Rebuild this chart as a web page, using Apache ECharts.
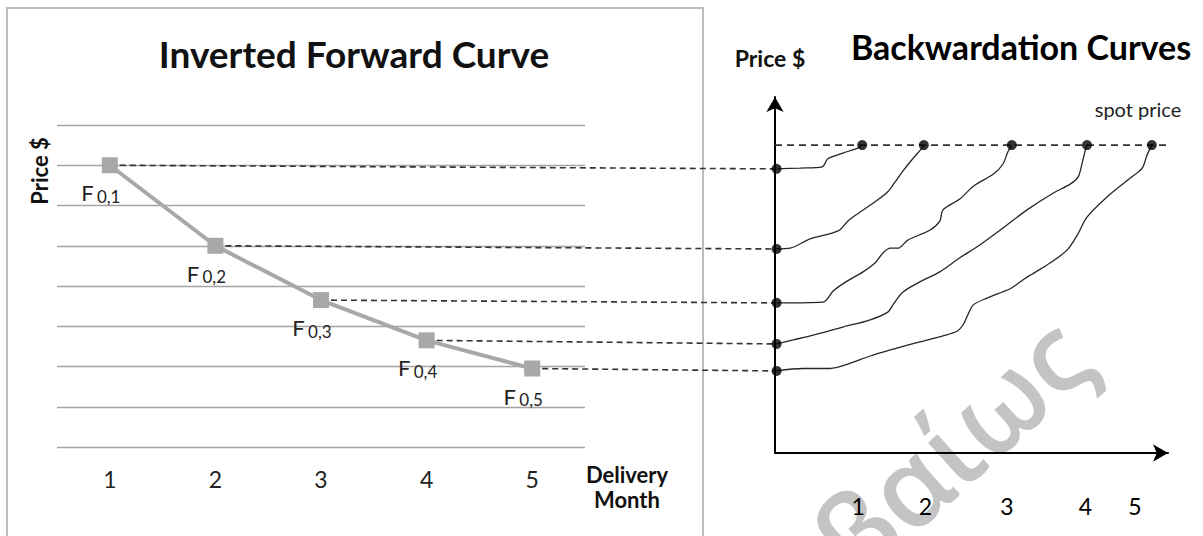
<!DOCTYPE html>
<html>
<head>
<meta charset="utf-8">
<script src="https://cdn.jsdelivr.net/npm/echarts@6/dist/echarts.min.js"></script>
<style>
  html, body { margin: 0; padding: 0; background: #ffffff; }
  #chart { width: 1203px; height: 536px; }
</style>
</head>
<body>
<div id="chart"></div>
<script>
// ---- Inverted forward curve: delivery months and forward prices F(0,k) ----
const months = ['1', '2', '3', '4', '5'];
const forwardPrices = [7.0, 5.0, 3.65, 2.65, 1.95];
const forwardSubscripts = ['0,1', '0,2', '0,3', '0,4', '0,5'];

// ---- Backwardation curves: spot price level and price paths [time, price] ----
const spotPrice = 7.5;
const spotLineEnd = 4.9;
const curve1 = [[0.02,6.91],[0.31,6.93],[0.59,6.96],[0.66,7.16],[0.85,7.30],[1.04,7.43],[1.09,7.50]];
const curve2 = [[0.02,4.92],[0.19,4.94],[0.44,5.17],[0.79,5.37],[0.91,5.61],[1.03,5.79],[1.25,6.09],[1.41,6.34],[1.50,6.58],[1.60,6.86],[1.73,7.18],[1.84,7.43],[1.86,7.50]];
const curve3 = [[0.02,3.58],[0.60,3.60],[0.73,3.88],[0.90,4.12],[1.10,4.35],[1.25,4.57],[1.35,4.82],[1.44,4.94],[1.54,4.94],[1.66,5.14],[1.94,5.39],[2.06,5.61],[2.10,5.89],[2.31,6.16],[2.48,6.48],[2.73,6.78],[2.85,7.03],[2.91,7.33],[2.96,7.50]];
const curve4 = [[0.02,2.56],[0.23,2.66],[0.48,2.78],[0.85,2.98],[1.19,3.16],[1.41,3.35],[1.48,3.55],[1.60,3.85],[1.81,4.10],[2.06,4.35],[2.31,4.70],[2.56,5.02],[2.85,5.44],[3.15,5.89],[3.48,6.31],[3.69,6.53],[3.79,6.71],[3.84,7.06],[3.88,7.38],[3.90,7.50]];
const curve5 = [[0.02,1.89],[0.35,1.95],[0.69,1.95],[0.90,2.05],[1.19,2.26],[1.48,2.43],[1.81,2.61],[2.10,2.76],[2.28,2.88],[2.35,3.03],[2.41,3.28],[2.48,3.53],[2.65,3.70],[2.94,3.93],[3.03,4.05],[3.15,4.22],[3.40,4.52],[3.65,4.89],[3.78,5.27],[3.90,5.71],[4.15,6.21],[4.44,6.68],[4.59,6.93],[4.65,7.25],[4.71,7.50]];
const curves = [curve1, curve2, curve3, curve4, curve5];

// Month labels under the backwardation time axis
const timeTickValues = [1.04, 1.88, 2.90, 3.88, 4.50];
const timeTickLabels = ['1', '2', '3', '4', '5'];

// ---- Layout ----
const LEFT_GRID = { left: 57, top: 125, width: 528, height: 322 };
const RIGHT_GRID = { left: 775, top: 97, width: 393, height: 356 };
const FONT = 'Lato, "Open Sans", sans-serif';

// A hidden grid sharing the left panel's scales but reaching across to the
// price axis of the backwardation panel; the dashed connectors live here.
const leftXMin = 0.5, leftXMax = 5.5;
const pxPerMonth = LEFT_GRID.width / (leftXMax - leftXMin);
const LINK_GRID = {
  left: LEFT_GRID.left, top: LEFT_GRID.top,
  width: RIGHT_GRID.left + 1 - LEFT_GRID.left, height: LEFT_GRID.height
};
const linkXMax = leftXMin + LINK_GRID.width / pxPerMonth;

const chart = echarts.init(document.getElementById('chart'), null, { renderer: 'svg' });

const dashed = { color: '#333333', width: 1.6, type: [6, 4] };

const connectorSeries = forwardPrices.map((p, i) => ({
  type: 'line',
  xAxisIndex: 3,
  yAxisIndex: 2,
  data: [[i + 1, p], [linkXMax, curves[i][0][1]]],
  showSymbol: false,
  silent: true,
  z: 3,
  lineStyle: dashed
}));

const curveSeries = curves.map((c) => ({
  type: 'line',
  xAxisIndex: 2,
  yAxisIndex: 1,
  data: c,
  smooth: 0.3,
  showSymbol: false,
  silent: true,
  z: 3,
  lineStyle: { color: '#262626', width: 1.3 }
}));

const option = {
  backgroundColor: '#ffffff',
  animation: false,
  grid: [
    Object.assign({ containLabel: false }, LEFT_GRID),
    Object.assign({ containLabel: false }, RIGHT_GRID),
    Object.assign({ containLabel: false }, LINK_GRID)
  ],
  xAxis: [
    {
      gridIndex: 0,
      type: 'category',
      data: months,
      boundaryGap: true,
      axisLine: { show: false },
      axisTick: { show: false },
      axisLabel: { fontFamily: FONT, fontSize: 23, color: '#222222', margin: 20 }
    },
    {
      gridIndex: 0,
      type: 'value',
      min: leftXMin,
      max: leftXMax,
      show: false
    },
    {
      gridIndex: 1,
      type: 'value',
      min: 0,
      max: 4.9125,
      splitLine: { show: false },
      axisTick: { show: false },
      axisLine: {
        show: true, onZero: false,
        symbol: ['none', 'arrow'], symbolSize: [13, 15],
        lineStyle: { color: '#000000', width: 2 }
      },
      axisLabel: {
        customValues: timeTickValues,
        formatter: (v) => {
          let best = 0;
          timeTickValues.forEach((t, i) => {
            if (Math.abs(t - v) < Math.abs(timeTickValues[best] - v)) best = i;
          });
          return timeTickLabels[best];
        },
        fontFamily: FONT, fontSize: 23, color: '#000000', margin: 41
      }
    },
    {
      gridIndex: 2,
      type: 'value',
      min: leftXMin,
      max: linkXMax,
      show: false
    }
  ],
  yAxis: [
    {
      gridIndex: 0,
      type: 'value',
      min: 0,
      max: 8,
      interval: 1,
      axisLine: { show: false },
      axisTick: { show: false },
      axisLabel: { show: false },
      splitLine: { show: true, lineStyle: { color: '#a3a3a3', width: 1.3 } }
    },
    {
      gridIndex: 1,
      type: 'value',
      min: -0.15,
      max: 8.695,
      axisTick: { show: false },
      axisLabel: { show: false },
      splitLine: { show: false },
      axisLine: {
        show: true, onZero: false,
        symbol: ['none', 'arrow'], symbolSize: [13, 15],
        lineStyle: { color: '#000000', width: 2 }
      }
    },
    {
      gridIndex: 2,
      type: 'value',
      min: 0,
      max: 8,
      show: false
    }
  ],
  series: [
    ...connectorSeries,
    {
      // forward prices by delivery month
      type: 'line',
      xAxisIndex: 0,
      yAxisIndex: 0,
      data: forwardPrices,
      symbol: 'rect',
      symbolSize: 16,
      z: 4,
      itemStyle: { color: '#a8a8a8' },
      lineStyle: { color: '#a8a8a8', width: 4 },
      label: {
        show: true,
        position: 'inside',
        offset: [-9, 31],
        formatter: (p) => '{f|F} {s|' + forwardSubscripts[p.dataIndex] + '}',
        rich: {
          f: { fontFamily: FONT, fontSize: 22, color: '#222222', padding: [0, 0, 7, 0] },
          s: { fontFamily: FONT, fontSize: 17, color: '#222222' }
        }
      }
    },
    {
      // spot price level
      type: 'line',
      xAxisIndex: 2,
      yAxisIndex: 1,
      data: [[0, spotPrice], [spotLineEnd, spotPrice]],
      showSymbol: false,
      silent: true,
      z: 3,
      lineStyle: { color: '#333333', width: 1.6, type: [7, 5] }
    },
    ...curveSeries,
    {
      // curve start points (forward prices) and end points (spot price)
      type: 'scatter',
      xAxisIndex: 2,
      yAxisIndex: 1,
      data: curves.map((c) => [0.02, c[0][1]]).concat(curves.map((c) => c[c.length - 1])),
      symbolSize: 10,
      z: 5,
      itemStyle: { color: '#000000' }
    }
  ],
  graphic: {
    elements: [
      {
        type: 'text', z: -10, x: 1070, y: 337, rotation: 42 * Math.PI / 180,
        style: { text: 'βεβαίως', font: '600 110px "Open Sans", sans-serif', fill: '#c4c4c4', align: 'right', verticalAlign: 'middle' }
      },
      {
        type: 'rect', z: 1,
        shape: { x: 7, y: 8, width: 696, height: 560 },
        style: { fill: 'none', stroke: '#bdbdbd', lineWidth: 2 }
      },
      {
        type: 'text', x: 354, y: 53,
        style: { text: 'Inverted Forward Curve', font: 'bold 37px ' + FONT, fill: '#111111', align: 'center', verticalAlign: 'middle' }
      },
      {
        type: 'text', x: 39, y: 171, rotation: Math.PI / 2,
        style: { text: 'Price $', font: 'bold 22px ' + FONT, fill: '#111111', align: 'center', verticalAlign: 'middle' }
      },
      {
        type: 'text', x: 627, y: 474,
        style: { text: 'Delivery', font: 'bold 22px ' + FONT, fill: '#111111', align: 'center', verticalAlign: 'middle' }
      },
      {
        type: 'text', x: 627, y: 499,
        style: { text: 'Month', font: 'bold 22px ' + FONT, fill: '#111111', align: 'center', verticalAlign: 'middle' }
      },
      {
        type: 'text', x: 1021, y: 46,
        style: { text: 'Backwardation Curves', font: 'bold 34px ' + FONT, fill: '#000000', align: 'center', verticalAlign: 'middle' }
      },
      {
        type: 'text', x: 770, y: 58,
        style: { text: 'Price $', font: 'bold 23px ' + FONT, fill: '#111111', align: 'center', verticalAlign: 'middle' }
      },
      {
        type: 'text', x: 1138, y: 109,
        style: { text: 'spot price', font: '20px ' + FONT, fill: '#222222', align: 'center', verticalAlign: 'middle' }
      }
    ]
  }
};

chart.setOption(option);
</script>
</body>
</html>
